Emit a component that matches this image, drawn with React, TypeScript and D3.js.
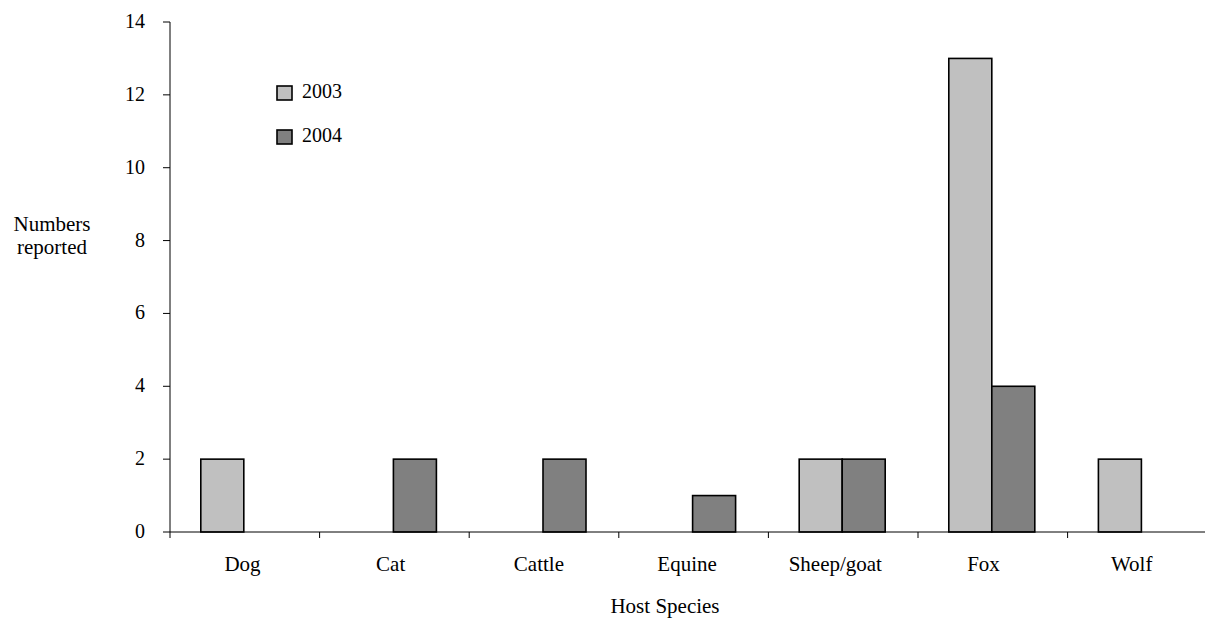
import * as d3 from "d3";

const species = ["Dog", "Cat", "Cattle", "Equine", "Sheep/goat", "Fox", "Wolf"];
const years = ["2003", "2004"];
const values2003 = [2, 0, 0, 0, 2, 13, 2];
const values2004 = [0, 2, 2, 1, 2, 4, 0];
const yTicks = [0, 2, 4, 6, 8, 10, 12, 14];
const colors = ["#C0C0C0", "#808080"];

const W = 1205;
const H = 618;
const left = 170;
const bandW = 149.6;
const top = 22;
const bottom = 532;

export default function App() {
  const x = d3
    .scaleBand<string>()
    .domain(species)
    .range([left, left + bandW * species.length]);
  // category labels sit on a slightly tighter spacing than the bands
  const xLabel = d3.scalePoint<string>().domain(species).range([242.5, 1131.7]);
  const y = d3.scaleLinear().domain([0, 14]).range([bottom, top]);
  const barW = 43;
  const series = [values2003, values2004];
  const font = "'Liberation Serif', 'Times New Roman', serif";

  return (
    <svg
      width={W}
      height={H}
      style={{ position: "absolute", left: 0, top: 0, background: "#fff" }}
      fontFamily={font}
    >
      {/* bars */}
      {series.map((vals, si) =>
        vals.map((v, i) =>
          v > 0 ? (
            <rect
              key={`${si}-${i}`}
              x={x(species[i])! + x.bandwidth() / 2 - 1 - barW + si * barW}
              y={y(v)}
              width={barW}
              height={y(0) - y(v)}
              fill={colors[si]}
              stroke="#000"
              strokeWidth={1.6}
            />
          ) : null
        )
      )}

      {/* y axis */}
      <line x1={left} x2={left} y1={top} y2={bottom} stroke="#000" strokeWidth={1} />
      {yTicks.map((t) => (
        <g key={t}>
          <line x1={left - 7} x2={left} y1={y(t)} y2={y(t)} stroke="#000" />
          <text x={145} y={y(t)} dy="0.3em" textAnchor="end" fontSize={20}>
            {t}
          </text>
        </g>
      ))}

      {/* x axis */}
      <line x1={left} x2={W} y1={bottom} y2={bottom} stroke="#000" strokeWidth={1} />
      {species.map((s) => (
        <g key={s}>
          <line x1={x(s)!} x2={x(s)!} y1={bottom} y2={bottom + 6} stroke="#000" />
          <text x={xLabel(s)!} y={571} textAnchor="middle" fontSize={21}>
            {s}
          </text>
        </g>
      ))}

      {/* axis titles */}
      <text x={52} y={231} textAnchor="middle" fontSize={21}>
        Numbers
      </text>
      <text x={52} y={254} textAnchor="middle" fontSize={21}>
        reported
      </text>
      <text x={665} y={613} textAnchor="middle" fontSize={21}>
        Host Species
      </text>

      {/* legend */}
      {years.map((yr, i) => (
        <g key={yr} transform={`translate(277, ${86 + i * 44})`}>
          <rect width={15} height={14} fill={colors[i]} stroke="#000" strokeWidth={1.6} />
          <text x={25} y={12} fontSize={20}>
            {yr}
          </text>
        </g>
      ))}
    </svg>
  );
}
